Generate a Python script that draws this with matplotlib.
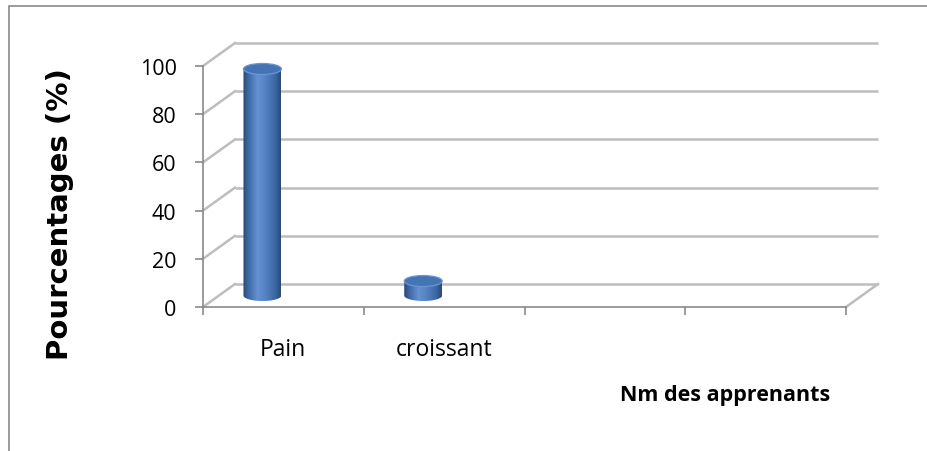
import numpy as np
import matplotlib
matplotlib.use("Agg")
import matplotlib.pyplot as plt
from matplotlib.patches import Ellipse, Rectangle, PathPatch
from matplotlib.path import Path
from matplotlib.colors import LinearSegmentedColormap

# ---- data ----
categories = ["Pain", "croissant"]
values = [94, 6]
n_slots = 4
y_ticks = [0, 20, 40, 60, 80, 100]
y_label = "Pourcentages (%)"
x_label = "Nm des apprenants"

plt.rcParams['font.family'] = ['Open Sans', 'DejaVu Sans']

W, H, DPI = 927, 452, 100
fig = plt.figure(figsize=(W / DPI, H / DPI), dpi=DPI)
fig.patch.set_facecolor("white")

# outer chart border
fig.add_artist(Rectangle((9 / W, -0.05), 1.2, (H - 7) / H + 0.05,
                         transform=fig.transFigure, facecolor="none",
                         edgecolor="#8A8A8A", lw=1.2))

ax = fig.add_axes([203 / W, (H - 308) / H, (846 - 203) / W, (308 - 67) / H])
ax.patch.set_visible(False)

px_x = (846 - 203) / n_slots
px_y = (308 - 67) / 100
dx = 32 / px_x
dy = 23 / px_y

grid_c = "#BDBDBD"
for t in y_ticks:
    ax.plot([dx, n_slots + dx], [t + dy, t + dy], color=grid_c, lw=1.8,
            clip_on=False, zorder=1, solid_capstyle="butt")
    ax.plot([0, dx], [t, t + dy], color=grid_c, lw=1.8, clip_on=False, zorder=1)
ax.plot([n_slots, n_slots + dx], [0, dy], color=grid_c, lw=1.8, clip_on=False, zorder=1)

# cylinders
cmap = LinearSegmentedColormap.from_list(
    "cyl", [(0, "#284874"), (0.12, "#39649F"), (0.38, "#6391D2"),
            (0.55, "#5787C8"), (0.85, "#3C67A3"), (1, "#294975")])
bw = 38 / px_x
eh = 11 / px_y
for i, v in enumerate(values):
    cx = i + 0.37
    x0, x1 = cx - bw / 2, cx + bw / 2
    yb = dy / 2
    yt = v + dy / 2
    th = np.linspace(np.pi, 2 * np.pi, 50)
    arc = np.column_stack([cx + bw / 2 * np.cos(th), yb + eh / 2 * np.sin(th)])
    verts = np.vstack([[x0, yt], arc, [x1, yt], [x0, yt]])
    path = Path(verts, closed=True)
    patch = PathPatch(path, transform=ax.transData, facecolor="none",
                      edgecolor="none")
    ax.add_patch(patch)
    im = ax.imshow(np.linspace(0, 1, 256)[None, :], cmap=cmap,
                   extent=(x0, x1, yb - eh / 2, yt), aspect="auto",
                   zorder=3, interpolation="bilinear")
    im.set_clip_path(patch)
    ax.add_patch(Ellipse((cx, yt), bw, eh, facecolor="#4574B4",
                         edgecolor="#6A96D2", lw=0.9, zorder=4, clip_on=False))

ax.set_xlim(0, n_slots)
ax.set_ylim(0, 100)

# axes & ticks
for s in ["top", "right"]:
    ax.spines[s].set_visible(False)
for s in ["left", "bottom"]:
    ax.spines[s].set_color("#8A8A8A")
    ax.spines[s].set_linewidth(1.2)
    ax.spines[s].set_zorder(5)
ax.set_yticks(y_ticks)
ax.set_xticks(np.arange(n_slots + 1))
ax.set_xticklabels([])
ax.tick_params(axis="both", direction="out", length=6, width=1.2, color="#8A8A8A")
ax.tick_params(axis="y", pad=13, labelsize=15.5, labelcolor="black")

for i, c in enumerate(categories):
    ax.text(i + 0.5, -42 / (px_y * 100), c, transform=ax.get_xaxis_transform(),
            ha="center", va="center", fontsize=16.5)

ax.text((725 - 203) / px_x, -(395 - 308) / (px_y * 100), x_label,
        transform=ax.get_xaxis_transform(), ha="center", va="center",
        fontsize=15.5, fontweight="bold")

fig.text(60 / W, (H - 214) / H, y_label, rotation=90, ha="center", va="center",
         fontsize=21, fontweight="bold", family=["DejaVu Sans"])

fig.savefig("out.png", dpi=DPI)
